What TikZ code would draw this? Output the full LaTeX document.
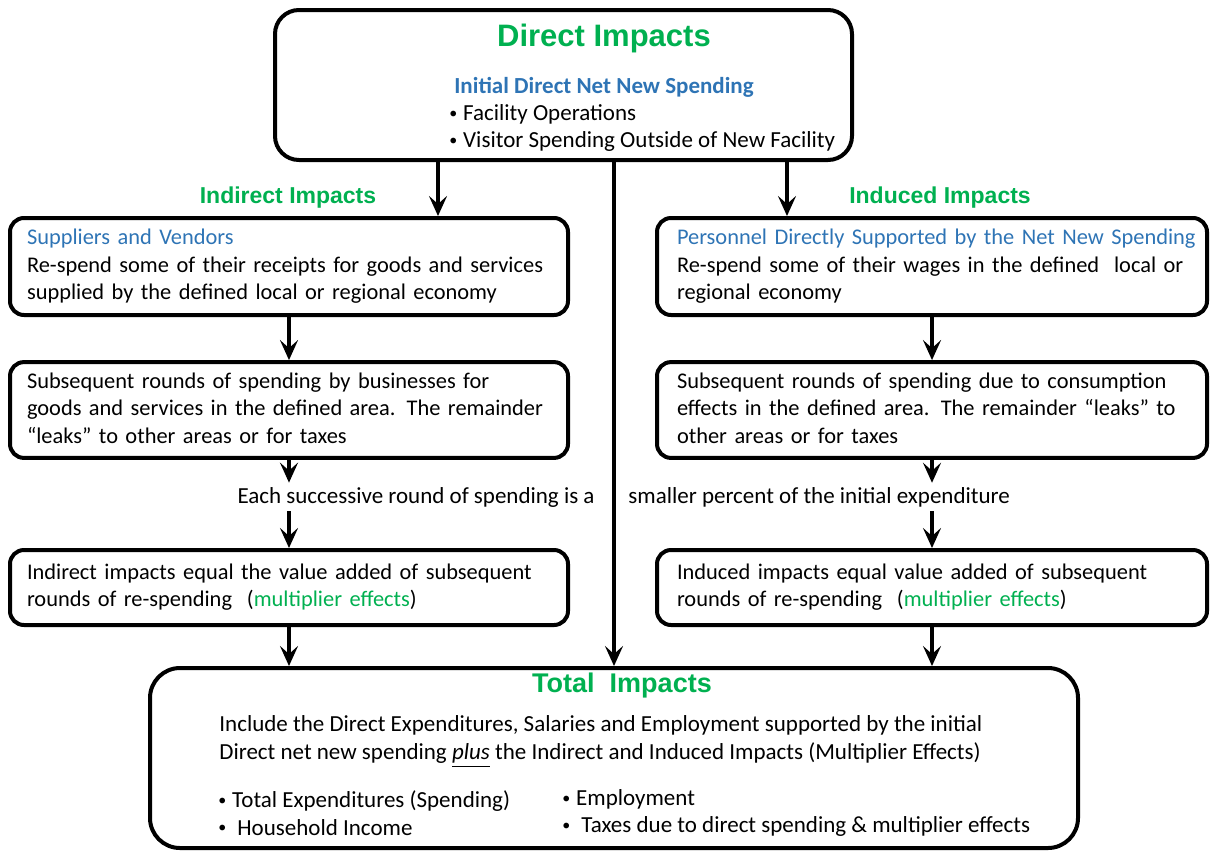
\documentclass[tikz,border=0pt]{standalone}
\usepackage{fontspec}
\setmainfont{Carlito}
\newfontfamily\headfont{Liberation Sans}
\usepackage{tikz}
\usetikzlibrary{arrows.meta, positioning, calc}
\usepackage{xcolor}
\definecolor{impgreen}{RGB}{0,176,80}
\definecolor{spendblue}{RGB}{46,116,181}
\newcommand{\txtfont}{\fontsize{11.5}{13.75}\selectfont}
\newcommand{\boxfont}{\fontsize{11.2}{13.75}\selectfont}
\newcommand{\boxlines}[1]{\begin{tabular}{@{}l@{}}#1\end{tabular}}
\newcommand{\bul}{\makebox[0.6em][l]{\raisebox{0.2ex}{\fontsize{8}{8}\selectfont\textbullet}}}

\begin{document}
\begin{tikzpicture}[x=0.5pt, y=-0.5pt,
    sidebox/.style={rectangle, rounded corners=7pt, draw, line width=2pt, minimum width=279pt, text width=262pt, inner xsep=8.5pt, align=left, font=\boxfont},
    rightbox/.style={sidebox, minimum width=275pt, text width=255pt, inner xsep=10pt},
    title/.style={font=\headfont\bfseries\fontsize{11.5}{14}\selectfont, text=impgreen},
    txt/.style={font=\txtfont, align=left, inner sep=2pt},
    arrow/.style={-{Stealth[length=10pt, width=9pt, inset=4pt]}, line width=2pt}
]
\useasboundingbox (0,0) rectangle (1214,852);

% direct impacts
\node[draw, line width=2pt, rounded corners=12pt, minimum width=288.5pt, minimum height=75pt] (direct) at (563.5,85) {};
\node[title, font=\headfont\bfseries\fontsize{15.5}{18}\selectfont] (directTitle) at (604,38) {Direct Impacts};
\node[txt, text=spendblue, font=\txtfont\bfseries] (directSub) at (604,87) {Initial Direct Net New Spending};
\node[txt, anchor=west] (directList) at (445,128) {\bul Facility Operations\\\bul Visitor Spending Outside of New Facility};

% side labels
\node[title] (indirectLbl) at (288,198) {Indirect Impacts};
\node[title] (inducedLbl) at (940,198) {Induced Impacts};

% indirect column
\node[sidebox, minimum height=48.5pt] (suppliers) at (289,266.5) {\boxlines{\textcolor{spendblue}{Suppliers and Vendors}\\Re-spend some of their receipts for goods and services\\supplied by the defined local or regional economy}};
\node[sidebox, minimum height=45pt] (subsL) at (289,410) {\boxlines{Subsequent rounds of spending by businesses for\\goods and services in the defined area. The remainder\\``leaks'' to other areas or for taxes}};
\node[sidebox, minimum height=37.5pt] (bottomL) at (289,587.5) {\boxlines{Indirect impacts equal the value added of subsequent\\rounds of re-spending~ (\textcolor{impgreen}{multiplier effects})}};

% induced column
\node[rightbox, minimum height=48.5pt] (personnel) at (932,266.5) {\boxlines{\textcolor{spendblue}{Personnel Directly Supported by the Net New Spending}\\Re-spend some of their wages in the defined~ local or\\regional economy}};
\node[rightbox, minimum height=45pt] (subsR) at (932,410) {\boxlines{Subsequent rounds of spending due to consumption\\effects in the defined area. The remainder ``leaks'' to\\other areas or for taxes}};
\node[rightbox, minimum height=37.5pt] (bottomR) at (932,587.5) {\boxlines{Induced impacts equal value added of subsequent\\rounds of re-spending~ (\textcolor{impgreen}{multiplier effects})}};

% round text
\node[txt, anchor=east] (roundL) at (599,497) {Each successive round of spending is a};
\node[txt, anchor=west] (roundR) at (624,497) {smaller percent of the initial expenditure};

% total impacts
\node[draw, line width=2pt, rounded corners=15pt, minimum width=464pt, minimum height=90pt] (total) at (614,758) {};
\node[title, font=\headfont\bfseries\fontsize{13.5}{16}\selectfont] (totalTitle) at (622,686) {Total~~Impacts};
\node[txt, anchor=west] (totalText) at (215,741.5) {Include the Direct Expenditures, Salaries and Employment supported by the initial\\Direct net new spending \underline{\textit{plus}} the Indirect and Induced Impacts (Multiplier Effects)};
\node[txt, anchor=west] (totalListA) at (214,813) {\bul Total Expenditures (Spending)\\\bul\ Household Income};
\node[txt, anchor=west] (totalListB) at (558,813) {\bul Employment\\\bul\ Taxes due to direct spending \& multiplier effects};

% arrows
\coordinate (dl) at (438,0);
\coordinate (dr) at (787,0);
\draw[arrow] (direct.south -| dl) -- (suppliers.north -| dl);
\draw[arrow] (direct.south -| dr) -- (personnel.north -| dr);
\draw[arrow] (direct.south -| total.north) -- (total.north);
\draw[arrow] (suppliers) -- (subsL);
\draw[arrow] (personnel) -- (subsR);
\draw[arrow] (subsL.south) -- (subsL.south |- roundL.north);
\draw[arrow] (bottomL.north |- roundL.south) -- (bottomL.north);
\draw[arrow] (subsR.south) -- (subsR.south |- roundR.north);
\draw[arrow] (bottomR.north |- roundR.south) -- (bottomR.north);
\draw[arrow] (bottomL.south) -- (bottomL.south |- total.north);
\draw[arrow] (bottomR.south) -- (bottomR.south |- total.north);
\end{tikzpicture}
\end{document}
